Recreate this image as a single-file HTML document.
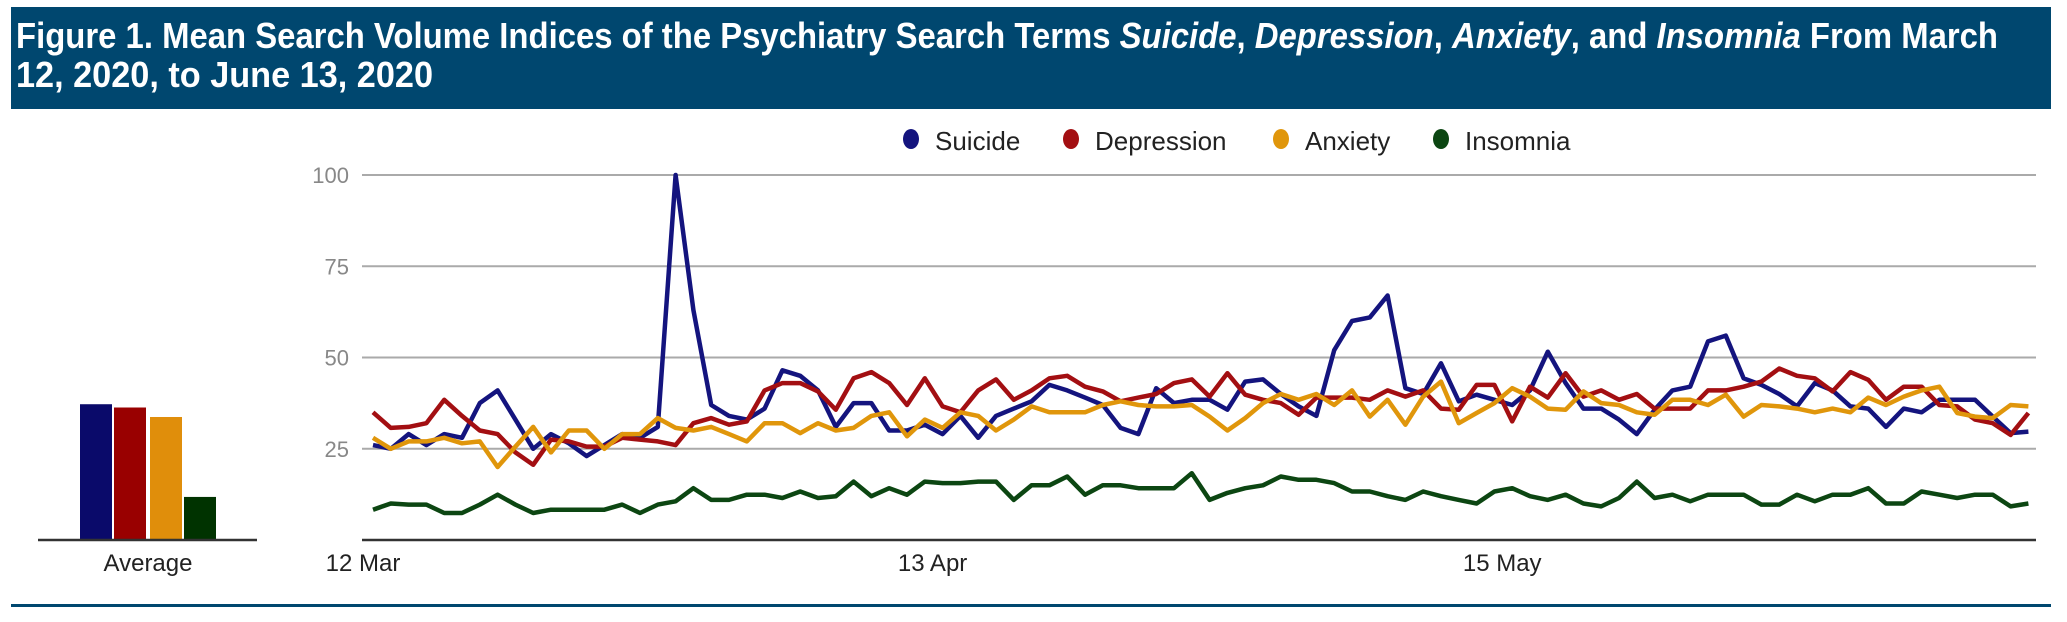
<!DOCTYPE html>
<html><head><meta charset="utf-8"><style>
html,body{margin:0;padding:0;background:#fff;}
svg{display:block;font-family:"Liberation Sans",sans-serif;}
</style></head><body>
<svg id="chart" width="2067" height="622" viewBox="0 0 2067 622" xmlns="http://www.w3.org/2000/svg">
<rect x="11" y="7" width="2040" height="102" fill="#00476f"/>
<text x="16" y="48" font-size="36" font-weight="bold" fill="#fff" textLength="1982" lengthAdjust="spacingAndGlyphs">Figure 1. Mean Search Volume Indices of the Psychiatry Search Terms <tspan font-style="italic">Suicide</tspan>, <tspan font-style="italic">Depression</tspan>, <tspan font-style="italic">Anxiety</tspan>, and <tspan font-style="italic">Insomnia</tspan> From March</text>
<text x="16" y="87" font-size="36" font-weight="bold" fill="#fff" textLength="417" lengthAdjust="spacingAndGlyphs">12, 2020, to June 13, 2020</text>
<rect x="11" y="604" width="2040" height="3" fill="#00476f"/>
<g id="grid"></g><g id="bars"></g><g id="lines"></g><g id="legend"></g>
</svg>
<script>
const seriesNames=["Suicide","Depression","Anxiety","Insomnia"];
const yTicks=[25,50,75,100];
const xTickLabels=["12 Mar","13 Apr","15 May"];
const xTickDays=[0,32,64];
const averages=[37.2,36.3,33.7,11.8];
const suicide=[26,25,29,26,29,28,37.5,41,33,25,29,26.5,23,26,29,28,31,100,63,37,34,33,36,46.5,
45,41,31,37.5,37.5,30,30,31.6,29,34,28,34,36,38,42.5,41,39,37,30.7,29,41.6,37.5,38.4,
38.4,35.7,43.4,44,40,36.6,34,52,60,61,67,41.6,40,48.4,38,39.8,38.4,37,41,51.6,43,36,36,33,
29,35.7,41,42,54.4,56,44.3,42.5,40,36.6,43,41,36.6,36,31,36,35,38.4,38.4,38.4,33.8,29.3,29.7];
const depression=[35,30.7,31,32,38.4,34,30,29,24,20.6,27.5,27,25.6,25.6,28,27.5,27,26,32,33.4,31.6,32.5,41,43,
43,40.7,35.7,44.3,46,43,37,44.3,36.6,35,41,44,38.4,41,44.3,45,42,40.7,38,39,40,43,44,
39.3,45.7,39.8,38.4,37.5,34.3,39,39,39,38.4,41,39.3,41,36,35.7,42.5,42.5,32.5,42,39,45.7,39.3,41,38.4,
40,36,36,36,41,41,42,43.4,47,45,44.3,40.7,46,43.9,38.4,42,42,37,36.6,33,32,28.8,34.8];
const anxiety=[28,25,27,27,28,26.5,27,20,25.6,31,24,30,30,25,29,29,33.4,30.7,30,31,29,27,32,32,
29.3,32,30,30.7,34,35,28.4,33,30.7,35,34,30,33,36.6,35,35,35,37,38,37,36.6,36.6,37,
33.8,30,33.4,37.5,40,38.4,40,37,41,33.8,38.4,31.6,39.3,43.4,32,34.8,37.5,41.6,39.3,36,35.7,40.7,37.5,37,
35,34.3,38.4,38.4,37,39.8,33.8,37,36.6,36,35,36,35,39,37,39.3,41,42,34.8,33.8,33.4,37,36.6];
const insomnia=[8.3,10,9.7,9.7,7.4,7.4,9.7,12.4,9.7,7.4,8.3,8.3,8.3,8.3,9.7,7.4,9.7,10.6,14.2,11,11,12.4,12.4,11.5,
13.3,11.5,12,16,12,14.2,12.4,16,15.6,15.6,16,16,11,15,15,17.4,12.4,15,15,14.2,14.2,14.2,18.3,
11,12.9,14.2,15,17.4,16.5,16.5,15.6,13.3,13.3,12,11,13.3,12,11,10,13.3,14.2,12,11,12.4,10,9.2,11.5,
16,11.5,12.4,10.6,12.4,12.4,12.4,9.7,9.7,12.4,10.6,12.4,12.4,14.2,10,10,13.3,12.4,11.5,12.4,12.4,9.2,10];

const NS="http://www.w3.org/2000/svg";
const colors=["#14147e","#a30f12","#e0960b","#0c4612"];
const barColors=["#0a0a6a","#990000","#e08e0b","#003300"];
const y=v=>540-v*(365/100);
const x=d=>373+d*17.8;
function mk(tag,attrs,parent){const e=document.createElementNS(NS,tag);for(const k in attrs)e.setAttribute(k,attrs[k]);parent.appendChild(e);return e;}
const grid=document.getElementById('grid');
yTicks.forEach(t=>{
  const l=mk('line',{x1:362,x2:2036,y1:y(t),y2:y(t),stroke:'#aaa','stroke-width':2},grid);
  
  
  const tx=mk('text',{x:349,y:y(t)+8,'text-anchor':'end','font-size':22,fill:'#888'},grid);
  tx.textContent=t;
  
  
});
const ax=mk('line',{x1:362,x2:2036,y1:540,y2:540,stroke:'#333','stroke-width':2.5},grid);


xTickLabels.forEach((lab,i)=>{
  const tx=mk('text',{x:x(xTickDays[i])-10,y:571,'text-anchor':'middle','font-size':24,fill:'#222'},grid);
  tx.textContent=lab;
  
  
});
// bar chart
const bars=document.getElementById('bars');
const bx=[80,114,150,184];
averages.forEach((v,i)=>{
  const r=mk('rect',{x:bx[i],y:y(v),width:32,height:540-y(v),fill:barColors[i]},bars);
  
  
});
const bax=mk('line',{x1:38,x2:257,y1:540,y2:540,stroke:'#333','stroke-width':2.5},bars);


const at=mk('text',{x:148,y:571,'text-anchor':'middle','font-size':24,fill:'#222'},bars);
at.textContent='Average';


// lines
const lines=document.getElementById('lines');
[suicide,depression,anxiety,insomnia].forEach((s,i)=>{
  const pts=s.map((v,d)=>x(d).toFixed(1)+','+y(v).toFixed(1)).join(' ');
  const p=mk('polyline',{points:pts,fill:'none',stroke:colors[i],'stroke-width':4.5,'stroke-linejoin':'round'},lines);
  
  
});
// legend
const leg=document.getElementById('legend');
const lx=[911,1071,1281,1441];
seriesNames.forEach((n,i)=>{
  const g=mk('g',{},leg);
  
  
  mk('ellipse',{cx:lx[i],cy:139,rx:8,ry:10,fill:colors[i]},g);
  const t=mk('text',{x:lx[i]+24,y:150,'font-size':26,fill:'#222'},g);
  t.textContent=n;
});
</script>
</body></html>
